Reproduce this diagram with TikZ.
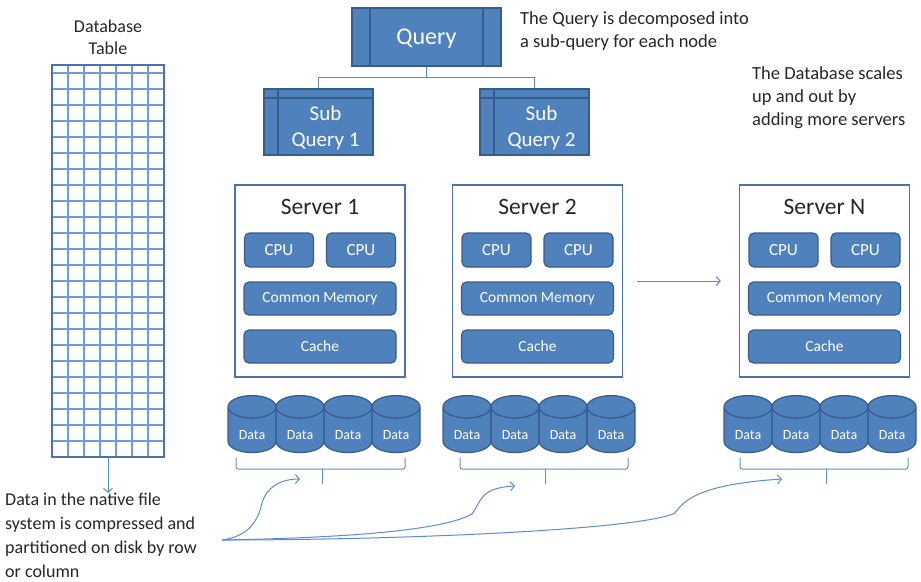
\documentclass[tikz,border=0pt]{standalone}
\usepackage{fontspec}
\setmainfont{Carlito}
\usepackage{tikz}
\usetikzlibrary{shapes.geometric,calc,arrows.meta}
\definecolor{boxfill}{HTML}{4F81BD}
\definecolor{boxedge}{HTML}{385D8A}
\definecolor{srvedge}{HTML}{4A72AE}
\definecolor{gridblue}{HTML}{6D9BDB}
\definecolor{linkblue}{HTML}{5B8BD0}
\definecolor{ink}{HTML}{262626}
\newcommand{\fsz}[2]{\fontsize{#1}{#2}\selectfont}

\tikzset{
  >={Straight Barb[length=4pt,width=9pt]},
  bluebox/.style={draw=boxedge, line width=1.2pt, fill=boxfill, text=white, inner sep=0pt},
  qbox/.style={bluebox, minimum width=149pt, minimum height=58pt, text depth=0pt, font=\fsz{24}{28},
    path picture={\draw[boxedge, line width=1.2pt]
      ([xshift=18pt]path picture bounding box.north west) -- ([xshift=18pt]path picture bounding box.south west)
      ([xshift=-18pt]path picture bounding box.north east) -- ([xshift=-18pt]path picture bounding box.south east);}},
  subbox/.style={bluebox, minimum width=109pt, minimum height=66pt,
    label={[text=white, align=center, font=\fsz{21}{26}, xshift=7pt, yshift=-6pt]center:#1},
    path picture={\draw[boxedge, line width=1.2pt]
      ([xshift=14pt]path picture bounding box.north west) -- ([xshift=14pt]path picture bounding box.south west)
      ([yshift=-9pt]path picture bounding box.north west) -- ([yshift=-9pt]path picture bounding box.north east);}},
  srvbox/.style={draw=srvedge, line width=1.5pt, fill=white, minimum width=170pt, minimum height=192pt},
  part/.style={bluebox, rounded corners=5pt, minimum height=34pt},
  cyl/.style={cylinder, shape border rotate=90, aspect=0.85, bluebox, minimum width=48pt,
    minimum height=57pt, text height=19pt, text depth=0pt, font=\fsz{14}{16}},
  note/.style={text=ink, align=left, inner sep=0pt, font=\fsz{18.5}{23}},
  link/.style={draw=linkblue, line width=1pt},
  gridline/.style={draw=gridblue, line width=1.1pt}
}

\begin{document}
\begin{tikzpicture}[x=1pt, y=-1pt]
  \useasboundingbox (0,0) rectangle (921,581);

  % database table
  \node[text=ink, align=center, font=\fsz{18}{22}] (title) at (108,37) {Database\\Table};
  \foreach \i in {1,...,6}
    \draw[gridline] (52+16*\i,65) -- (52+16*\i,457);
  \foreach \j in {0,...,23}
    \draw[gridline] (52,73+16*\j) -- (164,73+16*\j);
  \node[draw=srvedge, line width=1.5pt, minimum width=112pt, minimum height=392pt] (table) at (108,261) {};
  \node[note, anchor=north west, font=\fsz{18}{24}] (disk) at (5,493)
    {Data in the native file\\system is compressed and\\partitioned on disk by row\\or column};
  \draw[link,->] (table.south) -- (table.south |- disk.north);

  % query and sub-queries
  \node[qbox] (query) at (426.5,37) {Query};
  \node[subbox={Sub\\Query 1}] (sq1) at (318.5,122) {};
  \node[subbox={Sub\\Query 2}] (sq2) at (534.5,122) {};
  \draw[link, line width=0.8pt] (query.south) -- ++(0,11) -| (sq1.north);
  \draw[link, line width=0.8pt] (query.south) -- ++(0,11) -| (sq2.north);
  \node[note, anchor=west] (qnote) at (520,31) {The Query is decomposed into\\a sub-query for each node};
  \node[note, anchor=west] (snote) at (752,98) {The Database scales\\up and out by\\adding more servers};

  % servers
  \foreach \n/\x in {1/320, 2/537.5, N/824.5} {
    \node[srvbox] (srv\n) at (\x,281) {};
    \node[text=ink, font=\fsz{23.5}{26}] (head\n) at ($(srv\n.north)+(0,23)$) {Server \n};
    \node[part, minimum width=69pt, font=\fsz{17}{20}] (cpuA\n) at ($(srv\n.center)+(-41,-31)$) {CPU};
    \node[part, minimum width=69pt, font=\fsz{17}{20}] (cpuB\n) at ($(srv\n.center)+(41,-31)$) {CPU};
    \node[part, minimum width=152pt, minimum height=33pt, font=\fsz{15.5}{18}] (mem\n) at ($(srv\n.center)+(0,17.5)$) {Common Memory};
    \node[part, minimum width=152pt, minimum height=33pt, font=\fsz{15.5}{18}] (cache\n) at ($(srv\n.center)+(0,65.5)$) {Cache};
  }
  \draw[link,->] ([xshift=14pt]srv2.east) -- ([xshift=-18pt]srvN.west);

  % disks
  \foreach \g/\x in {1/252, 2/467, 3/748}
    \foreach \k in {0,...,3}
      \node[cyl] (d\g\k) at (\x+48*\k,430) {Data};
  \foreach \a/\m/\b in {236/322/405, 460/545/628, 740/826/908} {
    \draw[link, rounded corners=2pt] (\a,458) |- (\b,469) -- (\b,458);
    \draw[link] (\m,469) -- (\m,484);
  }

  % partitioning arrows
  \coordinate (src) at (222,540);
  \coordinate (in1) at (300,479);
  \coordinate (in2) at (515,486);
  \coordinate (in3) at (782,479);
  \draw[link,->] (src) .. controls (250,536) and (258,520) .. (262,503) .. controls (267,486) and (282,479) .. (in1);
  \draw[link,->] (src) .. controls (330,538) and (440,532) .. (472,514) .. controls (482,500) and (480,488) .. (in2);
  \draw[link,->] (src) .. controls (400,540) and (640,530) .. (675,513) .. controls (685,498) and (705,484) .. (in3);
\end{tikzpicture}
\end{document}
